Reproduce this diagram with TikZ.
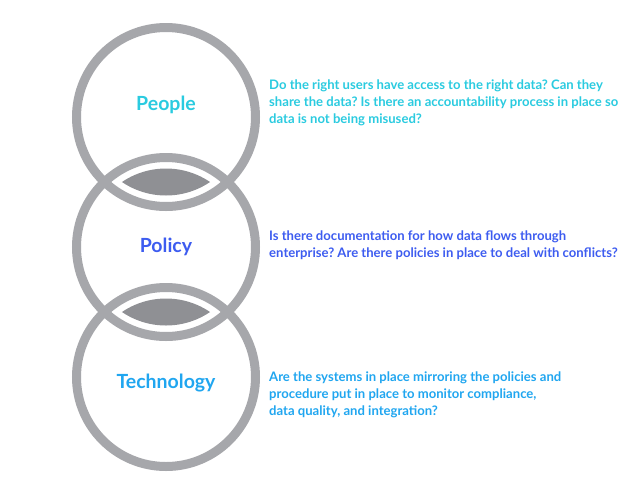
\documentclass[tikz,border=0pt]{standalone}
\usepackage{fontspec}
\setmainfont{Lato}
\frenchspacing
\definecolor{ringgray}{HTML}{A6A7AB}
\definecolor{lensgray}{HTML}{8F9094}
\definecolor{peoplecol}{HTML}{2ACBE0}
\definecolor{policycol}{HTML}{3D5CF0}
\definecolor{techcol}{HTML}{20A6F0}
\tikzset{
  ring/.style={circle, draw=ringgray, line width=9pt, minimum size=179pt, inner sep=0pt},
  label/.style={font=\fontsize{19.5}{22}\selectfont\bfseries},
  question/.style={anchor=west, align=left, inner sep=0pt, font=\fontsize{13.1}{17}\selectfont\bfseries\frenchspacing}
}
\begin{document}
\begin{tikzpicture}[x=1pt,y=-1pt]
\useasboundingbox (0,0) rectangle (640,480);
\fill[white] (0,0) rectangle (640,480);
% lenses
\begin{scope}
  \clip (166,117) circle (78.5);
  \fill[lensgray] (166,247) circle (78.5);
\end{scope}
\begin{scope}
  \clip (166,247) circle (78.5);
  \fill[lensgray] (166,377) circle (78.5);
\end{scope}
\node[ring] (c1) at (166,117) {};
\node[ring] (c2) at (166,247) {};
\node[ring] (c3) at (166,377) {};
\node[label, text=peoplecol] (people) at (166,105) {People};
\node[label, text=policycol] (policy) at (166,247) {Policy};
\node[label, text=techcol] (tech) at (166,383) {Technology};
\node[question, text=peoplecol] (q1) at (269,103) {Do the right users have access to the right data? Can they\\share the data? Is there an accountability process in place so\\data is not being misused?};
\node[question, text=policycol] (q2) at (269,245) {Is there documentation for how data flows through\\enterprise? Are there policies in place to deal with conflicts?};
\node[question, text=techcol] (q3) at (269,395) {Are the systems in place mirroring the policies and\\procedure put in place to monitor compliance,\\data quality, and integration?};
\end{tikzpicture}
\end{document}
